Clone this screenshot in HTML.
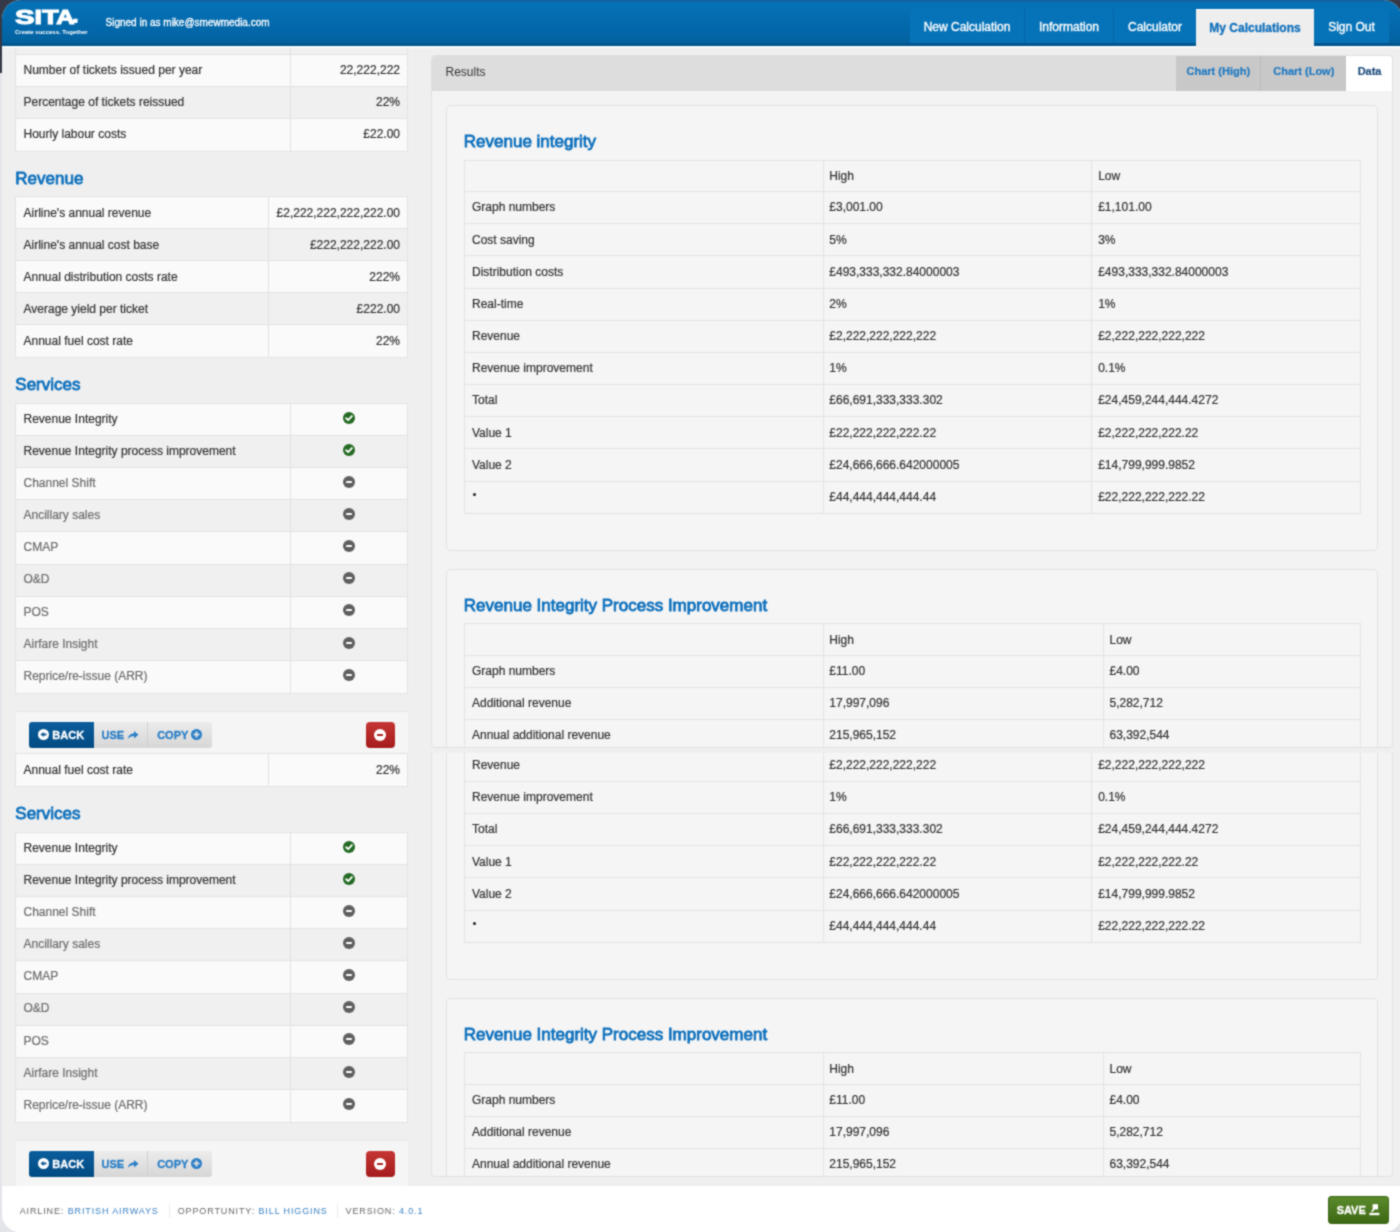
<!DOCTYPE html><html><head><meta charset="utf-8"><style>
*{box-sizing:border-box;margin:0;padding:0}
html,body{width:1400px;height:1232px;overflow:hidden}
body{background:#e3e5e9;font-family:"Liberation Sans",sans-serif;position:relative}
#root{position:absolute;left:0;top:0;width:1400px;height:1232px;overflow:hidden;background:#e3e5e9;filter:url(#sb)}
.dark{position:absolute;left:0;top:0;width:1400px;height:73px;background:#353947}
#win{position:absolute;left:2px;top:0;width:1400px;height:1232px;border-radius:19px 19px 18px 18px;overflow:hidden;background:#efefef}
.view{position:absolute;left:-2px;width:1400px;overflow:hidden}
.pg{position:absolute;left:0;width:1400px;height:1300px}
.lt{position:absolute;border:1px solid #e3e3e3;overflow:hidden}
.lt,.rt{box-sizing:content-box;margin-left:-1px;margin-top:-1px}
.lr{position:absolute;left:0;right:0}
.hl{position:absolute;left:0;right:0;height:1px;background:#e3e3e3}
.vl{position:absolute;top:0;width:1px;background:#e3e3e3}
.lab{position:absolute;left:7.5px;font-size:12px;color:#333;white-space:nowrap;-webkit-text-stroke:0.2px currentColor}
.lab.dis{color:#6c6c6c}
.val{position:absolute;text-align:right;font-size:12px;color:#333;white-space:nowrap;-webkit-text-stroke:0.2px currentColor}
.ic{position:absolute;width:12px;height:12px}
.ic svg{display:block}
.hd{position:absolute;color:#0d70bd;white-space:nowrap;line-height:22px;-webkit-text-stroke:0.8px #0d70bd}
.ab{position:absolute;left:16px;width:391.5px;height:60px;background:#f5f5f5;border-top:1px solid #e6e6e6}
.bgrp{position:absolute;left:13px;display:flex;height:26.5px}
.btn{height:26.3px;display:flex;align-items:center;justify-content:center;font-size:11px;font-weight:bold;white-space:nowrap;-webkit-text-stroke:0.3px currentColor}
.btn svg{display:block}
.back{width:64.5px;background:linear-gradient(#0b5d9c,#024a82);color:#fff;border-radius:3px 0 0 3px}
.use{width:54.5px;background:linear-gradient(#ececec,#d6d6d6);color:#2a7fc6;border-right:1px solid #d0d0d0}
.copy{width:63.5px;background:linear-gradient(#ececec,#d6d6d6);color:#2a7fc6;border-radius:0 3px 3px 0}
.del{position:absolute;width:28.8px;background:linear-gradient(#c53535,#a51c1c);border-radius:4px}
.panel{position:absolute;left:431.3px;top:54.6px;width:961.5px;height:693px;background:#f3f3f3;border:1px solid #e0e0e0;border-radius:4px;overflow:hidden}
.phead{position:absolute;left:0;top:0;right:0;height:35.5px;background:#dddddd}
.ptitle{position:absolute;left:13.2px;top:0.7px;line-height:33.4px;font-size:12px;color:#333}
.tab{position:absolute;top:-0.5px;height:35.5px;line-height:33.6px;font-size:11px;font-weight:bold;color:#1f79c2;text-align:center;background:#c8c8c8;-webkit-text-stroke:0.2px currentColor}
.t1{left:744px;width:85px;border-right:1px solid #bcbcbc}
.t2{left:829px;width:85px}
.t3{left:914px;width:46.5px;background:#fff;color:#1d4b7c}
.card{position:absolute;background:#f5f5f5;border:1px solid #e2e2e2;border-radius:4px}
.rt{position:absolute;border-left:1px solid #e2e2e2;border-right:1px solid #e2e2e2;background:#f5f5f5;box-sizing:border-box!important;margin:0!important}
.rt::before,.rt::after{content:'';position:absolute;left:0;right:0;height:1px;background:#e2e2e2}.rt::before{top:0}.rt::after{bottom:0}
.rc{position:absolute;font-size:12px;color:#333;white-space:nowrap;-webkit-text-stroke:0.2px currentColor}
.hdr{position:absolute;left:0;top:0;width:1400px;height:46px;background:linear-gradient(#12609a 0,#12609a 1px,#0572b7 2.5px,#0367a9 30px,#03629f 42.5px,#00548f 43.5px,#00578f 45.5px)}
.hdr .hl2{position:absolute;left:0;top:45.5px;width:1400px;height:2px;background:#f8fcfd}

.tag{position:absolute;left:15px;top:28.5px;color:#fff;font-weight:bold;font-size:6px;white-space:nowrap}
.signed{position:absolute;left:105.5px;top:16.7px;color:#fff;font-size:10px;white-space:nowrap;line-height:12px;-webkit-text-stroke:0.3px #fff}
.nav{position:absolute;top:8.6px;height:34.7px;line-height:36px;font-size:12px;color:#fff;text-align:center;background:#0673b8;white-space:nowrap;-webkit-text-stroke:0.35px #fff}
.nav.act{background:#eeeeee;color:#1170bb;font-weight:bold;border-top:1px solid #fff;height:39px;-webkit-text-stroke:0.3px #1170bb;border-radius:0!important;line-height:37px}
.foot{position:absolute;left:0;top:1186px;width:1400px;height:50px;background:#fff}
.fi{position:absolute;top:1206px;font-size:9px;letter-spacing:0.88px;color:#666;white-space:nowrap;line-height:10px}
.fi b{font-weight:normal;color:#3b82c4}
.fsep{position:absolute;top:1203px;width:1px;height:15px;background:#ececec}
.save{position:absolute;left:1328.2px;top:1196.4px;width:60.6px;height:27.2px;border-radius:3px;background:linear-gradient(#5b8a2c,#3d6814);border:1px solid #3b6616;color:#fff;font-size:11px;font-weight:bold;display:flex;align-items:center;justify-content:center;-webkit-text-stroke:0.3px #fff}
</style></head><body>
<svg width="0" height="0" style="position:absolute"><filter id="sb" x="0" y="0" width="1" height="1" color-interpolation-filters="sRGB"><feConvolveMatrix order="3" kernelMatrix="1 2 1 2 8 2 1 2 1" divisor="20" edgeMode="duplicate" preserveAlpha="true"/></filter></svg>
<div id="root">
<div class="dark"></div>
<div id="win">
<div class="view" style="top:0;height:752.5px"><div class="pg" style="top:0"><div class="lt" style="top:22.9px;left:16px;width:391px;height:128.4px"><div class="lr" style="top:0.00px;height:32.10px;background:#f0f0f0"></div><div class="lab" style="top:-1.10px;height:32.10px;line-height:32.10px"></div><div class="val" style="top:-1.10px;height:32.10px;line-height:32.10px;left:274px;width:110px"></div><div class="lr" style="top:32.10px;height:32.10px;background:#fafafa"></div><div class="hl" style="top:31.10px"></div><div class="lab" style="top:31.00px;height:32.10px;line-height:32.10px">Number of tickets issued per year</div><div class="val" style="top:31.00px;height:32.10px;line-height:32.10px;left:274px;width:110px">22,222,222</div><div class="lr" style="top:64.20px;height:32.10px;background:#f0f0f0"></div><div class="hl" style="top:63.20px"></div><div class="lab" style="top:63.10px;height:32.10px;line-height:32.10px">Percentage of tickets reissued</div><div class="val" style="top:63.10px;height:32.10px;line-height:32.10px;left:274px;width:110px">22%</div><div class="lr" style="top:96.30px;height:32.10px;background:#fafafa"></div><div class="hl" style="top:95.30px"></div><div class="lab" style="top:95.20px;height:32.10px;line-height:32.10px">Hourly labour costs</div><div class="val" style="top:95.20px;height:32.10px;line-height:32.10px;left:274px;width:110px">£22.00</div><div class="vl" style="left:273.5px;height:128.4px"></div></div><div class="hd" style="left:15.3px;top:168px;font-size:17px">Revenue</div><div class="lt" style="top:196.5px;left:16px;width:391px;height:160.5px"><div class="lr" style="top:0.00px;height:32.10px;background:#fafafa"></div><div class="lab" style="top:0.10px;height:32.10px;line-height:32.10px">Airline's annual revenue</div><div class="val" style="top:0.10px;height:32.10px;line-height:32.10px;left:252.5px;width:131.5px">£2,222,222,222,222.00</div><div class="lr" style="top:32.10px;height:32.10px;background:#f0f0f0"></div><div class="hl" style="top:31.10px"></div><div class="lab" style="top:32.20px;height:32.10px;line-height:32.10px">Airline's annual cost base</div><div class="val" style="top:32.20px;height:32.10px;line-height:32.10px;left:252.5px;width:131.5px">£222,222,222.00</div><div class="lr" style="top:64.20px;height:32.10px;background:#fafafa"></div><div class="hl" style="top:63.20px"></div><div class="lab" style="top:64.30px;height:32.10px;line-height:32.10px">Annual distribution costs rate</div><div class="val" style="top:64.30px;height:32.10px;line-height:32.10px;left:252.5px;width:131.5px">222%</div><div class="lr" style="top:96.30px;height:32.10px;background:#f0f0f0"></div><div class="hl" style="top:95.30px"></div><div class="lab" style="top:96.40px;height:32.10px;line-height:32.10px">Average yield per ticket</div><div class="val" style="top:96.40px;height:32.10px;line-height:32.10px;left:252.5px;width:131.5px">£222.00</div><div class="lr" style="top:128.40px;height:32.10px;background:#fafafa"></div><div class="hl" style="top:127.40px"></div><div class="lab" style="top:128.50px;height:32.10px;line-height:32.10px">Annual fuel cost rate</div><div class="val" style="top:128.50px;height:32.10px;line-height:32.10px;left:252.5px;width:131.5px">22%</div><div class="vl" style="left:252.0px;height:160.5px"></div></div><div class="hd" style="left:15.3px;top:374px;font-size:17px">Services</div><div class="lt" style="top:404px;left:16px;width:391px;height:288.90000000000003px"><div class="lr" style="top:0.00px;height:32.10px;background:#fafafa"></div><div class="lab" style="top:-1.10px;height:32.10px;line-height:32.10px">Revenue Integrity</div><div class="ic" style="top:7.85px;left:327px"><svg width="12" height="12" viewBox="0 0 12 12"><circle cx="6" cy="6" r="6" fill="#236a23"/><path d="M3.2 6.2 L5.2 8.1 L8.9 4.1" stroke="#fff" stroke-width="1.9" fill="none" stroke-linecap="round" stroke-linejoin="round"/></svg></div><div class="lr" style="top:32.10px;height:32.10px;background:#f0f0f0"></div><div class="hl" style="top:31.10px"></div><div class="lab" style="top:31.00px;height:32.10px;line-height:32.10px">Revenue Integrity process improvement</div><div class="ic" style="top:39.95px;left:327px"><svg width="12" height="12" viewBox="0 0 12 12"><circle cx="6" cy="6" r="6" fill="#236a23"/><path d="M3.2 6.2 L5.2 8.1 L8.9 4.1" stroke="#fff" stroke-width="1.9" fill="none" stroke-linecap="round" stroke-linejoin="round"/></svg></div><div class="lr" style="top:64.20px;height:32.10px;background:#fafafa"></div><div class="hl" style="top:63.20px"></div><div class="lab dis" style="top:63.10px;height:32.10px;line-height:32.10px">Channel Shift</div><div class="ic" style="top:72.05px;left:327px"><svg width="12" height="12" viewBox="0 0 12 12"><circle cx="6" cy="6" r="6" fill="#5f5f5f"/><rect x="3" y="5" width="6" height="2" rx="0.8" fill="#fff"/></svg></div><div class="lr" style="top:96.30px;height:32.10px;background:#f0f0f0"></div><div class="hl" style="top:95.30px"></div><div class="lab dis" style="top:95.20px;height:32.10px;line-height:32.10px">Ancillary sales</div><div class="ic" style="top:104.15px;left:327px"><svg width="12" height="12" viewBox="0 0 12 12"><circle cx="6" cy="6" r="6" fill="#5f5f5f"/><rect x="3" y="5" width="6" height="2" rx="0.8" fill="#fff"/></svg></div><div class="lr" style="top:128.40px;height:32.10px;background:#fafafa"></div><div class="hl" style="top:127.40px"></div><div class="lab dis" style="top:127.30px;height:32.10px;line-height:32.10px">CMAP</div><div class="ic" style="top:136.25px;left:327px"><svg width="12" height="12" viewBox="0 0 12 12"><circle cx="6" cy="6" r="6" fill="#5f5f5f"/><rect x="3" y="5" width="6" height="2" rx="0.8" fill="#fff"/></svg></div><div class="lr" style="top:160.50px;height:32.10px;background:#f0f0f0"></div><div class="hl" style="top:159.50px"></div><div class="lab dis" style="top:159.40px;height:32.10px;line-height:32.10px">O&amp;D</div><div class="ic" style="top:168.35px;left:327px"><svg width="12" height="12" viewBox="0 0 12 12"><circle cx="6" cy="6" r="6" fill="#5f5f5f"/><rect x="3" y="5" width="6" height="2" rx="0.8" fill="#fff"/></svg></div><div class="lr" style="top:192.60px;height:32.10px;background:#fafafa"></div><div class="hl" style="top:191.60px"></div><div class="lab dis" style="top:191.50px;height:32.10px;line-height:32.10px">POS</div><div class="ic" style="top:200.45px;left:327px"><svg width="12" height="12" viewBox="0 0 12 12"><circle cx="6" cy="6" r="6" fill="#5f5f5f"/><rect x="3" y="5" width="6" height="2" rx="0.8" fill="#fff"/></svg></div><div class="lr" style="top:224.70px;height:32.10px;background:#f0f0f0"></div><div class="hl" style="top:223.70px"></div><div class="lab dis" style="top:223.60px;height:32.10px;line-height:32.10px">Airfare Insight</div><div class="ic" style="top:232.55px;left:327px"><svg width="12" height="12" viewBox="0 0 12 12"><circle cx="6" cy="6" r="6" fill="#5f5f5f"/><rect x="3" y="5" width="6" height="2" rx="0.8" fill="#fff"/></svg></div><div class="lr" style="top:256.80px;height:32.10px;background:#fafafa"></div><div class="hl" style="top:255.80px"></div><div class="lab dis" style="top:255.70px;height:32.10px;line-height:32.10px">Reprice/re-issue (ARR)</div><div class="ic" style="top:264.65px;left:327px"><svg width="12" height="12" viewBox="0 0 12 12"><circle cx="6" cy="6" r="6" fill="#5f5f5f"/><rect x="3" y="5" width="6" height="2" rx="0.8" fill="#fff"/></svg></div><div class="vl" style="left:273.5px;height:288.90000000000003px"></div></div><div class="ab" style="top:711px">
<div class="bgrp" style="top:9.6px">
 <div class="btn back"><svg width="11" height="11" viewBox="0 0 12 12" style="margin-right:3px"><circle cx="6" cy="6" r="6" fill="#fff"/><path d="M2.6 6 L6.2 3.2 L6.2 4.8 L9.2 4.8 L9.2 7.2 L6.2 7.2 L6.2 8.8 Z" fill="#0b5793"/></svg>BACK</div><div class="btn use">USE<svg width="12" height="10" viewBox="0 0 12 10" style="margin-left:3px"><path d="M1 9 C1.5 5 4 3.6 7 3.6 L7 1 L11.5 4.8 L7 8.6 L7 6 C4.5 6 2.6 6.8 1 9 Z" fill="#2a7fc6"/></svg></div><div class="btn copy">COPY<svg width="11" height="11" viewBox="0 0 12 12" style="margin-left:3px"><circle cx="6" cy="6" r="6" fill="#2a7fc6"/><rect x="2.8" y="5" width="6.4" height="2" fill="#e2e2e2"/><rect x="5" y="2.8" width="2" height="6.4" fill="#e2e2e2"/></svg></div>
</div>
<div class="btn del" style="left:349.9px;top:9.6px"><svg width="12" height="12" viewBox="0 0 12 12"><circle cx="6" cy="6" r="6" fill="#fff"/><rect x="3" y="5" width="6" height="2" rx="0.6" fill="#a92222"/></svg></div>
</div><div class="panel"><div class="phead"><div class="ptitle">Results</div><div class="tab t1">Chart (High)</div><div class="tab t2">Chart (Low)</div><div class="tab t3">Data</div></div><div class="card" style="left:13.90px;top:49.80px;width:931.60px;height:445.40px"></div><div class="hd" style="left:31.5px;top:75px;font-size:17px">Revenue integrity</div><div class="rt" style="top:104.30px;left:31.60px;width:896.90px;height:353.80px"><div class="rc" style="top:0.30px;left:364.40px;height:32.20px;line-height:32.20px">High</div><div class="rc" style="top:0.30px;left:633.30px;height:32.20px;line-height:32.20px">Low</div><div class="hl" style="top:31.20px"></div><div class="rc" style="top:31.50px;left:7.10px;height:33.16px;line-height:33.16px">Graph numbers</div><div class="rc" style="top:31.50px;left:364.40px;height:33.16px;line-height:33.16px">£3,001.00</div><div class="rc" style="top:31.50px;left:633.30px;height:33.16px;line-height:33.16px">£1,101.00</div><div class="hl" style="top:63.36px"></div><div class="rc" style="top:63.66px;left:7.10px;height:33.16px;line-height:33.16px">Cost saving</div><div class="rc" style="top:63.66px;left:364.40px;height:33.16px;line-height:33.16px">5%</div><div class="rc" style="top:63.66px;left:633.30px;height:33.16px;line-height:33.16px">3%</div><div class="hl" style="top:95.52px"></div><div class="rc" style="top:95.82px;left:7.10px;height:33.16px;line-height:33.16px">Distribution costs</div><div class="rc" style="top:95.82px;left:364.40px;height:33.16px;line-height:33.16px">£493,333,332.84000003</div><div class="rc" style="top:95.82px;left:633.30px;height:33.16px;line-height:33.16px">£493,333,332.84000003</div><div class="hl" style="top:127.68px"></div><div class="rc" style="top:127.98px;left:7.10px;height:33.16px;line-height:33.16px">Real-time</div><div class="rc" style="top:127.98px;left:364.40px;height:33.16px;line-height:33.16px">2%</div><div class="rc" style="top:127.98px;left:633.30px;height:33.16px;line-height:33.16px">1%</div><div class="hl" style="top:159.84px"></div><div class="rc" style="top:160.14px;left:7.10px;height:33.16px;line-height:33.16px">Revenue</div><div class="rc" style="top:160.14px;left:364.40px;height:33.16px;line-height:33.16px">£2,222,222,222,222</div><div class="rc" style="top:160.14px;left:633.30px;height:33.16px;line-height:33.16px">£2,222,222,222,222</div><div class="hl" style="top:192.00px"></div><div class="rc" style="top:192.30px;left:7.10px;height:33.16px;line-height:33.16px">Revenue improvement</div><div class="rc" style="top:192.30px;left:364.40px;height:33.16px;line-height:33.16px">1%</div><div class="rc" style="top:192.30px;left:633.30px;height:33.16px;line-height:33.16px">0.1%</div><div class="hl" style="top:224.16px"></div><div class="rc" style="top:224.46px;left:7.10px;height:33.16px;line-height:33.16px">Total</div><div class="rc" style="top:224.46px;left:364.40px;height:33.16px;line-height:33.16px">£66,691,333,333.302</div><div class="rc" style="top:224.46px;left:633.30px;height:33.16px;line-height:33.16px">£24,459,244,444.4272</div><div class="hl" style="top:256.32px"></div><div class="rc" style="top:256.62px;left:7.10px;height:33.16px;line-height:33.16px">Value 1</div><div class="rc" style="top:256.62px;left:364.40px;height:33.16px;line-height:33.16px">£22,222,222,222.22</div><div class="rc" style="top:256.62px;left:633.30px;height:33.16px;line-height:33.16px">£2,222,222,222.22</div><div class="hl" style="top:288.48px"></div><div class="rc" style="top:288.78px;left:7.10px;height:33.16px;line-height:33.16px">Value 2</div><div class="rc" style="top:288.78px;left:364.40px;height:33.16px;line-height:33.16px">£24,666,666.642000005</div><div class="rc" style="top:288.78px;left:633.30px;height:33.16px;line-height:33.16px">£14,799,999.9852</div><div class="hl" style="top:320.64px"></div><div style="position:absolute;left:8.20px;top:332.64px;width:3.4px;height:3.4px;border-radius:50%;background:#222"></div><div class="rc" style="top:320.94px;left:364.40px;height:33.16px;line-height:33.16px">£44,444,444,444.44</div><div class="rc" style="top:320.94px;left:633.30px;height:33.16px;line-height:33.16px">£22,222,222,222.22</div><div class="vl" style="left:358.20px;height:353.80px"></div><div class="vl" style="left:626.50px;height:353.80px"></div></div><div class="card" style="left:13.90px;top:513.20px;width:931.60px;height:600px"></div><div class="hd" style="left:31.5px;top:539px;font-size:17px">Revenue Integrity Process Improvement</div><div class="rt" style="top:567.90px;left:31.60px;width:896.90px;height:160.84px"><div class="rc" style="top:0.30px;left:364.40px;height:32.20px;line-height:32.20px">High</div><div class="rc" style="top:0.30px;left:644.60px;height:32.20px;line-height:32.20px">Low</div><div class="hl" style="top:31.20px"></div><div class="rc" style="top:31.50px;left:7.10px;height:33.16px;line-height:33.16px">Graph numbers</div><div class="rc" style="top:31.50px;left:364.40px;height:33.16px;line-height:33.16px">£11.00</div><div class="rc" style="top:31.50px;left:644.60px;height:33.16px;line-height:33.16px">£4.00</div><div class="hl" style="top:63.36px"></div><div class="rc" style="top:63.66px;left:7.10px;height:33.16px;line-height:33.16px">Additional revenue</div><div class="rc" style="top:63.66px;left:364.40px;height:33.16px;line-height:33.16px">17,997,096</div><div class="rc" style="top:63.66px;left:644.60px;height:33.16px;line-height:33.16px">5,282,712</div><div class="hl" style="top:95.52px"></div><div class="rc" style="top:95.82px;left:7.10px;height:33.16px;line-height:33.16px">Annual additional revenue</div><div class="rc" style="top:95.82px;left:364.40px;height:33.16px;line-height:33.16px">215,965,152</div><div class="rc" style="top:95.82px;left:644.60px;height:33.16px;line-height:33.16px">63,392,544</div><div class="hl" style="top:127.68px"></div><div class="rc" style="top:127.98px;left:7.10px;height:33.16px;line-height:33.16px">Annual revenue</div><div class="rc" style="top:127.98px;left:364.40px;height:33.16px;line-height:33.16px">£</div><div class="rc" style="top:127.98px;left:644.60px;height:33.16px;line-height:33.16px">£</div><div class="vl" style="left:358.20px;height:160.84px"></div><div class="vl" style="left:637.80px;height:160.84px"></div></div></div></div></div>
<div class="view" style="top:752.5px;height:433.5px"><div class="pg" style="top:-323.5px"><div class="lt" style="top:22.9px;left:16px;width:391px;height:128.4px"><div class="lr" style="top:0.00px;height:32.10px;background:#f0f0f0"></div><div class="lab" style="top:-1.10px;height:32.10px;line-height:32.10px"></div><div class="val" style="top:-1.10px;height:32.10px;line-height:32.10px;left:274px;width:110px"></div><div class="lr" style="top:32.10px;height:32.10px;background:#fafafa"></div><div class="hl" style="top:31.10px"></div><div class="lab" style="top:31.00px;height:32.10px;line-height:32.10px">Number of tickets issued per year</div><div class="val" style="top:31.00px;height:32.10px;line-height:32.10px;left:274px;width:110px">22,222,222</div><div class="lr" style="top:64.20px;height:32.10px;background:#f0f0f0"></div><div class="hl" style="top:63.20px"></div><div class="lab" style="top:63.10px;height:32.10px;line-height:32.10px">Percentage of tickets reissued</div><div class="val" style="top:63.10px;height:32.10px;line-height:32.10px;left:274px;width:110px">22%</div><div class="lr" style="top:96.30px;height:32.10px;background:#fafafa"></div><div class="hl" style="top:95.30px"></div><div class="lab" style="top:95.20px;height:32.10px;line-height:32.10px">Hourly labour costs</div><div class="val" style="top:95.20px;height:32.10px;line-height:32.10px;left:274px;width:110px">£22.00</div><div class="vl" style="left:273.5px;height:128.4px"></div></div><div class="hd" style="left:15.3px;top:168px;font-size:17px">Revenue</div><div class="lt" style="top:196.5px;left:16px;width:391px;height:160.5px"><div class="lr" style="top:0.00px;height:32.10px;background:#fafafa"></div><div class="lab" style="top:0.10px;height:32.10px;line-height:32.10px">Airline's annual revenue</div><div class="val" style="top:0.10px;height:32.10px;line-height:32.10px;left:252.5px;width:131.5px">£2,222,222,222,222.00</div><div class="lr" style="top:32.10px;height:32.10px;background:#f0f0f0"></div><div class="hl" style="top:31.10px"></div><div class="lab" style="top:32.20px;height:32.10px;line-height:32.10px">Airline's annual cost base</div><div class="val" style="top:32.20px;height:32.10px;line-height:32.10px;left:252.5px;width:131.5px">£222,222,222.00</div><div class="lr" style="top:64.20px;height:32.10px;background:#fafafa"></div><div class="hl" style="top:63.20px"></div><div class="lab" style="top:64.30px;height:32.10px;line-height:32.10px">Annual distribution costs rate</div><div class="val" style="top:64.30px;height:32.10px;line-height:32.10px;left:252.5px;width:131.5px">222%</div><div class="lr" style="top:96.30px;height:32.10px;background:#f0f0f0"></div><div class="hl" style="top:95.30px"></div><div class="lab" style="top:96.40px;height:32.10px;line-height:32.10px">Average yield per ticket</div><div class="val" style="top:96.40px;height:32.10px;line-height:32.10px;left:252.5px;width:131.5px">£222.00</div><div class="lr" style="top:128.40px;height:32.10px;background:#fafafa"></div><div class="hl" style="top:127.40px"></div><div class="lab" style="top:128.50px;height:32.10px;line-height:32.10px">Annual fuel cost rate</div><div class="val" style="top:128.50px;height:32.10px;line-height:32.10px;left:252.5px;width:131.5px">22%</div><div class="vl" style="left:252.0px;height:160.5px"></div></div><div class="hd" style="left:15.3px;top:374px;font-size:17px">Services</div><div class="lt" style="top:404px;left:16px;width:391px;height:288.90000000000003px"><div class="lr" style="top:0.00px;height:32.10px;background:#fafafa"></div><div class="lab" style="top:-1.10px;height:32.10px;line-height:32.10px">Revenue Integrity</div><div class="ic" style="top:7.85px;left:327px"><svg width="12" height="12" viewBox="0 0 12 12"><circle cx="6" cy="6" r="6" fill="#236a23"/><path d="M3.2 6.2 L5.2 8.1 L8.9 4.1" stroke="#fff" stroke-width="1.9" fill="none" stroke-linecap="round" stroke-linejoin="round"/></svg></div><div class="lr" style="top:32.10px;height:32.10px;background:#f0f0f0"></div><div class="hl" style="top:31.10px"></div><div class="lab" style="top:31.00px;height:32.10px;line-height:32.10px">Revenue Integrity process improvement</div><div class="ic" style="top:39.95px;left:327px"><svg width="12" height="12" viewBox="0 0 12 12"><circle cx="6" cy="6" r="6" fill="#236a23"/><path d="M3.2 6.2 L5.2 8.1 L8.9 4.1" stroke="#fff" stroke-width="1.9" fill="none" stroke-linecap="round" stroke-linejoin="round"/></svg></div><div class="lr" style="top:64.20px;height:32.10px;background:#fafafa"></div><div class="hl" style="top:63.20px"></div><div class="lab dis" style="top:63.10px;height:32.10px;line-height:32.10px">Channel Shift</div><div class="ic" style="top:72.05px;left:327px"><svg width="12" height="12" viewBox="0 0 12 12"><circle cx="6" cy="6" r="6" fill="#5f5f5f"/><rect x="3" y="5" width="6" height="2" rx="0.8" fill="#fff"/></svg></div><div class="lr" style="top:96.30px;height:32.10px;background:#f0f0f0"></div><div class="hl" style="top:95.30px"></div><div class="lab dis" style="top:95.20px;height:32.10px;line-height:32.10px">Ancillary sales</div><div class="ic" style="top:104.15px;left:327px"><svg width="12" height="12" viewBox="0 0 12 12"><circle cx="6" cy="6" r="6" fill="#5f5f5f"/><rect x="3" y="5" width="6" height="2" rx="0.8" fill="#fff"/></svg></div><div class="lr" style="top:128.40px;height:32.10px;background:#fafafa"></div><div class="hl" style="top:127.40px"></div><div class="lab dis" style="top:127.30px;height:32.10px;line-height:32.10px">CMAP</div><div class="ic" style="top:136.25px;left:327px"><svg width="12" height="12" viewBox="0 0 12 12"><circle cx="6" cy="6" r="6" fill="#5f5f5f"/><rect x="3" y="5" width="6" height="2" rx="0.8" fill="#fff"/></svg></div><div class="lr" style="top:160.50px;height:32.10px;background:#f0f0f0"></div><div class="hl" style="top:159.50px"></div><div class="lab dis" style="top:159.40px;height:32.10px;line-height:32.10px">O&amp;D</div><div class="ic" style="top:168.35px;left:327px"><svg width="12" height="12" viewBox="0 0 12 12"><circle cx="6" cy="6" r="6" fill="#5f5f5f"/><rect x="3" y="5" width="6" height="2" rx="0.8" fill="#fff"/></svg></div><div class="lr" style="top:192.60px;height:32.10px;background:#fafafa"></div><div class="hl" style="top:191.60px"></div><div class="lab dis" style="top:191.50px;height:32.10px;line-height:32.10px">POS</div><div class="ic" style="top:200.45px;left:327px"><svg width="12" height="12" viewBox="0 0 12 12"><circle cx="6" cy="6" r="6" fill="#5f5f5f"/><rect x="3" y="5" width="6" height="2" rx="0.8" fill="#fff"/></svg></div><div class="lr" style="top:224.70px;height:32.10px;background:#f0f0f0"></div><div class="hl" style="top:223.70px"></div><div class="lab dis" style="top:223.60px;height:32.10px;line-height:32.10px">Airfare Insight</div><div class="ic" style="top:232.55px;left:327px"><svg width="12" height="12" viewBox="0 0 12 12"><circle cx="6" cy="6" r="6" fill="#5f5f5f"/><rect x="3" y="5" width="6" height="2" rx="0.8" fill="#fff"/></svg></div><div class="lr" style="top:256.80px;height:32.10px;background:#fafafa"></div><div class="hl" style="top:255.80px"></div><div class="lab dis" style="top:255.70px;height:32.10px;line-height:32.10px">Reprice/re-issue (ARR)</div><div class="ic" style="top:264.65px;left:327px"><svg width="12" height="12" viewBox="0 0 12 12"><circle cx="6" cy="6" r="6" fill="#5f5f5f"/><rect x="3" y="5" width="6" height="2" rx="0.8" fill="#fff"/></svg></div><div class="vl" style="left:273.5px;height:288.90000000000003px"></div></div><div class="ab" style="top:711px">
<div class="bgrp" style="top:9.6px">
 <div class="btn back"><svg width="11" height="11" viewBox="0 0 12 12" style="margin-right:3px"><circle cx="6" cy="6" r="6" fill="#fff"/><path d="M2.6 6 L6.2 3.2 L6.2 4.8 L9.2 4.8 L9.2 7.2 L6.2 7.2 L6.2 8.8 Z" fill="#0b5793"/></svg>BACK</div><div class="btn use">USE<svg width="12" height="10" viewBox="0 0 12 10" style="margin-left:3px"><path d="M1 9 C1.5 5 4 3.6 7 3.6 L7 1 L11.5 4.8 L7 8.6 L7 6 C4.5 6 2.6 6.8 1 9 Z" fill="#2a7fc6"/></svg></div><div class="btn copy">COPY<svg width="11" height="11" viewBox="0 0 12 12" style="margin-left:3px"><circle cx="6" cy="6" r="6" fill="#2a7fc6"/><rect x="2.8" y="5" width="6.4" height="2" fill="#e2e2e2"/><rect x="5" y="2.8" width="2" height="6.4" fill="#e2e2e2"/></svg></div>
</div>
<div class="btn del" style="left:349.9px;top:9.6px"><svg width="12" height="12" viewBox="0 0 12 12"><circle cx="6" cy="6" r="6" fill="#fff"/><rect x="3" y="5" width="6" height="2" rx="0.6" fill="#a92222"/></svg></div>
</div><div class="panel"><div class="phead"><div class="ptitle">Results</div><div class="tab t1">Chart (High)</div><div class="tab t2">Chart (Low)</div><div class="tab t3">Data</div></div><div class="card" style="left:13.90px;top:49.80px;width:931.60px;height:445.40px"></div><div class="hd" style="left:31.5px;top:75px;font-size:17px">Revenue integrity</div><div class="rt" style="top:104.30px;left:31.60px;width:896.90px;height:353.80px"><div class="rc" style="top:0.30px;left:364.40px;height:32.20px;line-height:32.20px">High</div><div class="rc" style="top:0.30px;left:633.30px;height:32.20px;line-height:32.20px">Low</div><div class="hl" style="top:31.20px"></div><div class="rc" style="top:31.50px;left:7.10px;height:33.16px;line-height:33.16px">Graph numbers</div><div class="rc" style="top:31.50px;left:364.40px;height:33.16px;line-height:33.16px">£3,001.00</div><div class="rc" style="top:31.50px;left:633.30px;height:33.16px;line-height:33.16px">£1,101.00</div><div class="hl" style="top:63.36px"></div><div class="rc" style="top:63.66px;left:7.10px;height:33.16px;line-height:33.16px">Cost saving</div><div class="rc" style="top:63.66px;left:364.40px;height:33.16px;line-height:33.16px">5%</div><div class="rc" style="top:63.66px;left:633.30px;height:33.16px;line-height:33.16px">3%</div><div class="hl" style="top:95.52px"></div><div class="rc" style="top:95.82px;left:7.10px;height:33.16px;line-height:33.16px">Distribution costs</div><div class="rc" style="top:95.82px;left:364.40px;height:33.16px;line-height:33.16px">£493,333,332.84000003</div><div class="rc" style="top:95.82px;left:633.30px;height:33.16px;line-height:33.16px">£493,333,332.84000003</div><div class="hl" style="top:127.68px"></div><div class="rc" style="top:127.98px;left:7.10px;height:33.16px;line-height:33.16px">Real-time</div><div class="rc" style="top:127.98px;left:364.40px;height:33.16px;line-height:33.16px">2%</div><div class="rc" style="top:127.98px;left:633.30px;height:33.16px;line-height:33.16px">1%</div><div class="hl" style="top:159.84px"></div><div class="rc" style="top:160.14px;left:7.10px;height:33.16px;line-height:33.16px">Revenue</div><div class="rc" style="top:160.14px;left:364.40px;height:33.16px;line-height:33.16px">£2,222,222,222,222</div><div class="rc" style="top:160.14px;left:633.30px;height:33.16px;line-height:33.16px">£2,222,222,222,222</div><div class="hl" style="top:192.00px"></div><div class="rc" style="top:192.30px;left:7.10px;height:33.16px;line-height:33.16px">Revenue improvement</div><div class="rc" style="top:192.30px;left:364.40px;height:33.16px;line-height:33.16px">1%</div><div class="rc" style="top:192.30px;left:633.30px;height:33.16px;line-height:33.16px">0.1%</div><div class="hl" style="top:224.16px"></div><div class="rc" style="top:224.46px;left:7.10px;height:33.16px;line-height:33.16px">Total</div><div class="rc" style="top:224.46px;left:364.40px;height:33.16px;line-height:33.16px">£66,691,333,333.302</div><div class="rc" style="top:224.46px;left:633.30px;height:33.16px;line-height:33.16px">£24,459,244,444.4272</div><div class="hl" style="top:256.32px"></div><div class="rc" style="top:256.62px;left:7.10px;height:33.16px;line-height:33.16px">Value 1</div><div class="rc" style="top:256.62px;left:364.40px;height:33.16px;line-height:33.16px">£22,222,222,222.22</div><div class="rc" style="top:256.62px;left:633.30px;height:33.16px;line-height:33.16px">£2,222,222,222.22</div><div class="hl" style="top:288.48px"></div><div class="rc" style="top:288.78px;left:7.10px;height:33.16px;line-height:33.16px">Value 2</div><div class="rc" style="top:288.78px;left:364.40px;height:33.16px;line-height:33.16px">£24,666,666.642000005</div><div class="rc" style="top:288.78px;left:633.30px;height:33.16px;line-height:33.16px">£14,799,999.9852</div><div class="hl" style="top:320.64px"></div><div style="position:absolute;left:8.20px;top:332.64px;width:3.4px;height:3.4px;border-radius:50%;background:#222"></div><div class="rc" style="top:320.94px;left:364.40px;height:33.16px;line-height:33.16px">£44,444,444,444.44</div><div class="rc" style="top:320.94px;left:633.30px;height:33.16px;line-height:33.16px">£22,222,222,222.22</div><div class="vl" style="left:358.20px;height:353.80px"></div><div class="vl" style="left:626.50px;height:353.80px"></div></div><div class="card" style="left:13.90px;top:513.20px;width:931.60px;height:600px"></div><div class="hd" style="left:31.5px;top:539px;font-size:17px">Revenue Integrity Process Improvement</div><div class="rt" style="top:567.90px;left:31.60px;width:896.90px;height:160.84px"><div class="rc" style="top:0.30px;left:364.40px;height:32.20px;line-height:32.20px">High</div><div class="rc" style="top:0.30px;left:644.60px;height:32.20px;line-height:32.20px">Low</div><div class="hl" style="top:31.20px"></div><div class="rc" style="top:31.50px;left:7.10px;height:33.16px;line-height:33.16px">Graph numbers</div><div class="rc" style="top:31.50px;left:364.40px;height:33.16px;line-height:33.16px">£11.00</div><div class="rc" style="top:31.50px;left:644.60px;height:33.16px;line-height:33.16px">£4.00</div><div class="hl" style="top:63.36px"></div><div class="rc" style="top:63.66px;left:7.10px;height:33.16px;line-height:33.16px">Additional revenue</div><div class="rc" style="top:63.66px;left:364.40px;height:33.16px;line-height:33.16px">17,997,096</div><div class="rc" style="top:63.66px;left:644.60px;height:33.16px;line-height:33.16px">5,282,712</div><div class="hl" style="top:95.52px"></div><div class="rc" style="top:95.82px;left:7.10px;height:33.16px;line-height:33.16px">Annual additional revenue</div><div class="rc" style="top:95.82px;left:364.40px;height:33.16px;line-height:33.16px">215,965,152</div><div class="rc" style="top:95.82px;left:644.60px;height:33.16px;line-height:33.16px">63,392,544</div><div class="hl" style="top:127.68px"></div><div class="rc" style="top:127.98px;left:7.10px;height:33.16px;line-height:33.16px">Annual revenue</div><div class="rc" style="top:127.98px;left:364.40px;height:33.16px;line-height:33.16px">£</div><div class="rc" style="top:127.98px;left:644.60px;height:33.16px;line-height:33.16px">£</div><div class="vl" style="left:358.20px;height:160.84px"></div><div class="vl" style="left:637.80px;height:160.84px"></div></div></div></div></div>
</div>
<div id="top" style="position:absolute;left:0;top:0;width:1400px;height:1232px;pointer-events:none">
<div style="position:absolute;left:2px;top:0;width:1400px;height:1232px;border-radius:19px 19px 18px 18px;overflow:hidden">
<div style="position:absolute;left:-2px;top:0;width:1400px;height:1232px">
<div class="hdr"><div class="hl2"></div><svg class="logo" width="90" height="30" viewBox="0 0 90 30" style="position:absolute;left:0;top:0"><g fill="#fff" stroke="#fff" stroke-width="1.1" font-family="Liberation Sans" font-weight="bold" font-size="20.6"><text transform="matrix(1.42,0,0,1,15.0,23.9)">S</text><text transform="matrix(1.3,0,0,1,34.6,23.9)">I</text><text transform="matrix(1.3,0,0,1,42.2,23.9)">T</text><text transform="matrix(1.22,0,0,1,56.3,23.9)">A</text></g><path d="M73.2 18.8 L77.6 18.8 L77.6 21.8 Q77.6 23 76.4 23 L72.6 23 Z" fill="#fff"/></svg><div class="tag">Create success. Together</div><div class="signed">Signed in as mike@smewmedia.com</div><div class="nav" style="left:910px;width:114px;border-radius:2px 2px 0 0;">New Calculation</div><div class="nav" style="left:1024px;width:89px;border-radius:2px 2px 0 0;border-left:1px solid #0566a8;">Information</div><div class="nav" style="left:1113px;width:83px;border-radius:2px 2px 0 0;border-left:1px solid #0566a8;">Calculator</div><div class="nav act" style="left:1196px;width:118px;border-radius:2px 2px 0 0;">My Calculations</div><div class="nav" style="left:1314px;width:75px;border-radius:2px 2px 0 0;">Sign Out</div></div>
<div class="foot"></div><div class="fi" style="left:19.7px">AIRLINE: <b>BRITISH AIRWAYS</b></div><div class="fsep" style="left:168.5px"></div><div class="fi" style="left:177.7px">OPPORTUNITY: <b>BILL HIGGINS</b></div><div class="fsep" style="left:337px"></div><div class="fi" style="left:345.5px">VERSION: <b>4.0.1</b></div><div class="save">SAVE<svg width="11" height="12" viewBox="0 0 11 12" style="margin-left:3.5px;margin-top:0.5px"><rect x="3.6" y="0.2" width="5.4" height="5.2" fill="#fff"/><path d="M2.6 7.6 L5.2 5" stroke="#fff" stroke-width="1.6"/><rect x="0.4" y="8.8" width="10" height="2.4" fill="#fff"/></svg></div>
</div></div></div>
</div>
</body></html>
